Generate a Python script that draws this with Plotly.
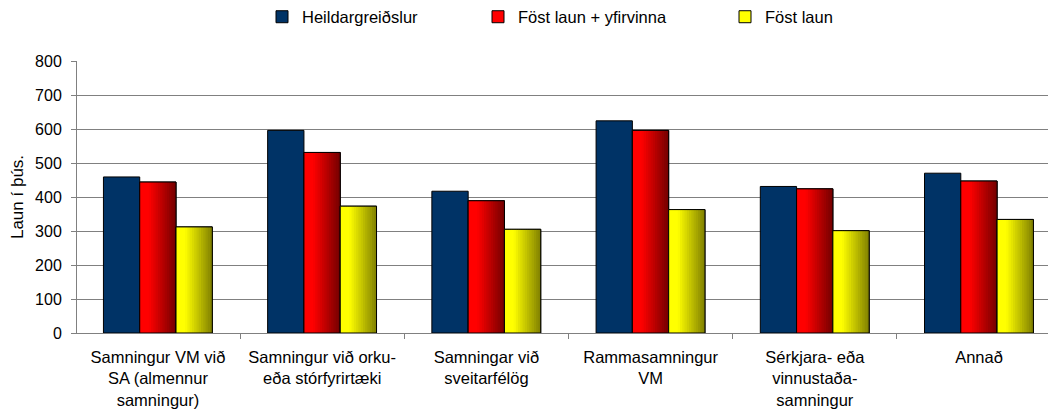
import plotly.graph_objects as go

categories = [
    "Samningur VM við<br>SA (almennur<br>samningur)",
    "Samningur við orku-<br>eða stórfyrirtæki",
    "Samningar við<br>sveitarfélög",
    "Rammasamningur<br>VM",
    "Sérkjara- eða<br>vinnustaða-<br>samningur",
    "Annað",
]
heildar = [459, 596, 417, 624, 431, 470]
fost_yfir = [444, 531, 389, 596, 424, 447]
fost = [312, 373, 305, 363, 301, 334]
series_names = ["Heildargreiðslur", "Föst laun + yfirvinna", "Föst laun"]

FONT = "Liberation Sans, Arial, sans-serif"
BAR_W = 0.221
OFFSETS = [-0.332, -0.111, 0.110]
N_STRIPS = 16

fig = go.Figure()

# Blue solid series
fig.add_trace(go.Bar(
    x=categories, y=heildar, name=series_names[0],
    offset=OFFSETS[0], width=BAR_W,
    marker=dict(color="#003366", line=dict(color="#000000", width=1)),
    legend="legend",
))


def gradient_series(values, name, base_rgb, end_factor, offset, legend_id):
    r, g, b = base_rgb
    # base trace (legend carrier)
    fig.add_trace(go.Bar(
        x=categories, y=values, name=name, offset=offset, width=BAR_W,
        marker=dict(color="rgb(%d,%d,%d)" % (r, g, b), line=dict(color="#000000", width=1)),
        legend=legend_id,
    ))
    sw = BAR_W / N_STRIPS
    for k in range(N_STRIPS):
        t = (k + 0.5) / N_STRIPS
        f = 1.0 if t < 0.25 else 1.0 - (1.0 - end_factor) * (t - 0.25) / 0.75
        col = "rgb(%d,%d,%d)" % (round(r * f), round(g * f), round(b * f))
        w = sw * 1.4 if k < N_STRIPS - 1 else sw
        fig.add_trace(go.Bar(
            x=categories, y=values, offset=offset + k * sw, width=w,
            marker=dict(color=col, line=dict(width=0)),
            showlegend=False, hoverinfo="skip",
        ))
    fig.add_trace(go.Bar(
        x=categories, y=values, offset=offset, width=BAR_W,
        marker=dict(color="rgba(0,0,0,0)", line=dict(color="#000000", width=1)),
        showlegend=False, hoverinfo="skip",
    ))


gradient_series(fost_yfir, series_names[1], (255, 0, 0), 0.45, OFFSETS[1], "legend2")
gradient_series(fost, series_names[2], (255, 255, 0), 0.5, OFFSETS[2], "legend3")

L, R, T, B = 77, 1048, 61, 333
PW = R - L
PH = B - T


def px_x(p):
    return (p - L) / PW


def px_y(p):
    return (B - p) / PH


leg_common = dict(orientation="h", yanchor="middle", y=px_y(17), xanchor="left",
                  font=dict(family=FONT, size=16.5, color="#000000"),
                  bgcolor="rgba(0,0,0,0)", borderwidth=0)

fig.update_layout(
    width=1048, height=410,
    margin=dict(l=L, r=1048 - R, t=T, b=410 - B, autoexpand=False),
    paper_bgcolor="white", plot_bgcolor="white",
    barmode="overlay",
    font=dict(family=FONT, size=16, color="#000000"),
    legend=dict(x=px_x(262), **leg_common),
    legend2=dict(x=px_x(478), **leg_common),
    legend3=dict(x=px_x(725), **leg_common),
    xaxis=dict(
        range=[-0.493, 5.42], tickson="boundaries", ticks="outside", ticklen=5,
        tickcolor="#808080", showline=True, linecolor="#808080", linewidth=1,
        showgrid=False, tickfont=dict(family=FONT, size=16.5), tickangle=0,
        automargin=False, ticklabelstandoff=9,
    ),
    yaxis=dict(
        range=[0, 800], dtick=100, ticks="outside", ticklen=5, tickcolor="#808080",
        showline=True, linecolor="#808080", linewidth=1,
        showgrid=True, gridcolor="#808080", gridwidth=1,
        zeroline=False, tickfont=dict(family=FONT, size=16),
        title=dict(text="Laun í þús.", font=dict(family=FONT, size=17), standoff=7),
        ticklabelstandoff=6, automargin=False,
    ),
)

fig.write_html("out.html", config={"displayModeBar": False},
               post_script="document.body.style.margin='0px';")
